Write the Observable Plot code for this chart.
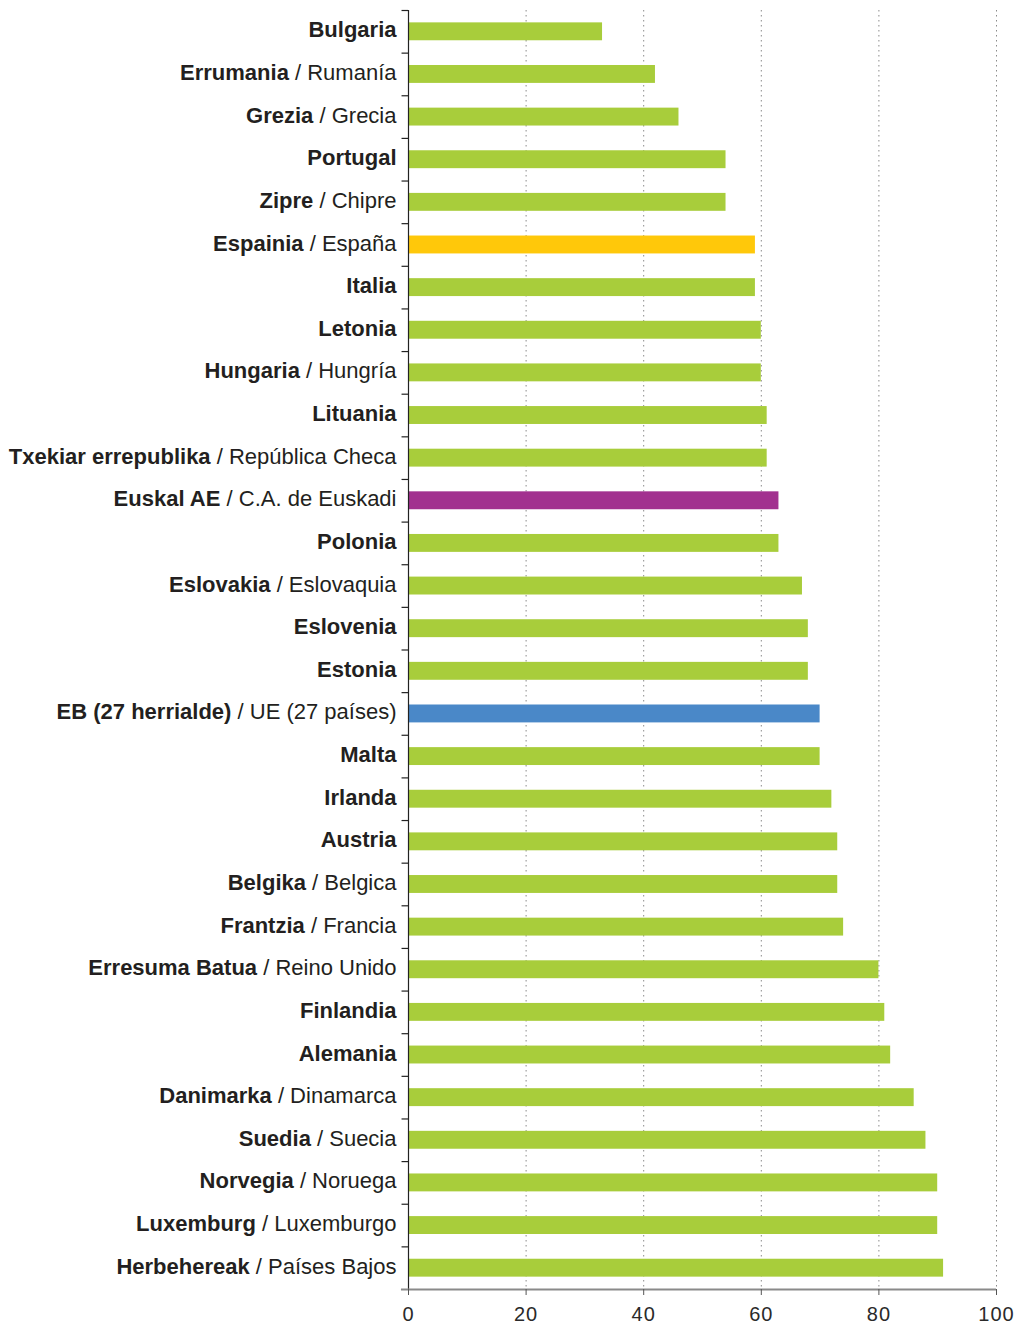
<!DOCTYPE html>
<html>
<head>
<meta charset="utf-8">
<script src="https://cdn.jsdelivr.net/npm/d3@7"></script>
<script src="https://cdn.jsdelivr.net/npm/@observablehq/plot@0.6"></script>
<style>
  html, body { margin: 0; padding: 0; background: #fff; }
  #chart svg { display: block; }
  g[aria-label="x-axis tick label"] text { letter-spacing: 1px; }
</style>
</head>
<body>
<div id="chart"></div>
<script>
// Basque (bold) names
const namesEu = ["Bulgaria","Errumania","Grezia","Portugal","Zipre","Espainia","Italia","Letonia","Hungaria","Lituania","Txekiar errepublika","Euskal AE","Polonia","Eslovakia","Eslovenia","Estonia","EB (27 herrialde)","Malta","Irlanda","Austria","Belgika","Frantzia","Erresuma Batua","Finlandia","Alemania","Danimarka","Suedia","Norvegia","Luxemburg","Herbehereak"];
// Spanish names (empty when identical)
const namesEs = ["","Rumanía","Grecia","","Chipre","España","","","Hungría","","República Checa","C.A. de Euskadi","","Eslovaquia","","","UE (27 países)","","","","Belgica","Francia","Reino Unido","","","Dinamarca","Suecia","Noruega","Luxemburgo","Países Bajos"];
const values = [33,42,46,54,54,59,59,60,60,61,61,63,63,67,68,68,70,70,72,73,73,74,80,81,82,86,88,90,90,91];
const groups = ["c","c","c","c","c","es","c","c","c","c","c","eus","c","c","c","c","eu","c","c","c","c","c","c","c","c","c","c","c","c","c"];
const xTicks = [0,20,40,60,80,100];

const groupDomain = ["c","es","eus","eu"];
const groupColors = ["#a8cd3b","#ffc80a","#a2318f","#4a88c8"];

const labels = namesEu.map((n, i) => namesEs[i] ? `${n} / ${namesEs[i]}` : n);
const data = labels.map((label, i) => ({label, value: values[i], group: groups[i]}));

const W = 1020, H = 1326, mT = 10, mB = 37;
const step = (H - mT - mB) / labels.length;

const chart = Plot.plot({
  width: W,
  height: H,
  marginLeft: 408,
  marginRight: 24,
  marginTop: mT,
  marginBottom: mB,
  style: {fontFamily: "'Liberation Sans', Arial, Helvetica, sans-serif", background: "#fff"},
  x: {domain: [0, 100]},
  y: {domain: labels, paddingInner: 0.58, paddingOuter: 0.29, round: false},
  color: {domain: groupDomain, range: groupColors},
  marks: [
    Plot.ruleX(xTicks.filter(d => d > 0), {stroke: "#8a8a8a", strokeWidth: 1, strokeDasharray: "1.5,3.5"}),
    Plot.barX(data, {x: "value", y: "label", fill: "group"}),
    Plot.ruleX([0], {stroke: "#222", strokeWidth: 1.2}),
    Plot.ruleY(labels, {y: d => d, x1: -1.1, x2: 0, dy: -step / 2, stroke: "#222", strokeWidth: 1.2}),
    Plot.ruleY([labels[labels.length - 1]], {x1: -1.2, x2: 100, dy: step / 2, stroke: "#8a8a8a", strokeWidth: 2}),
    Plot.axisX({ticks: xTicks, tickSize: 6, tickPadding: 11, stroke: "#555", fill: "#2a2a2a", fontSize: 20, label: null}),
    Plot.axisY({tickSize: 0, tickPadding: 12, fontSize: 22, fill: "#231f20", dy: -1.5, label: null})
  ]
});

document.getElementById("chart").appendChild(chart);

// Rich labels: bold Basque name, regular Spanish name
const svgNS = "http://www.w3.org/2000/svg";
d3.select(chart).selectAll('g[aria-label="y-axis tick label"] text').each(function() {
  const t = this.textContent;
  const idx = labels.indexOf(t);
  if (idx < 0) return;
  this.textContent = "";
  const b = document.createElementNS(svgNS, "tspan");
  b.setAttribute("font-weight", "bold");
  b.textContent = namesEu[idx];
  this.appendChild(b);
  if (namesEs[idx]) {
    const r = document.createElementNS(svgNS, "tspan");
    r.textContent = " / " + namesEs[idx];
    this.appendChild(r);
  }
});
</script>
</body>
</html>
